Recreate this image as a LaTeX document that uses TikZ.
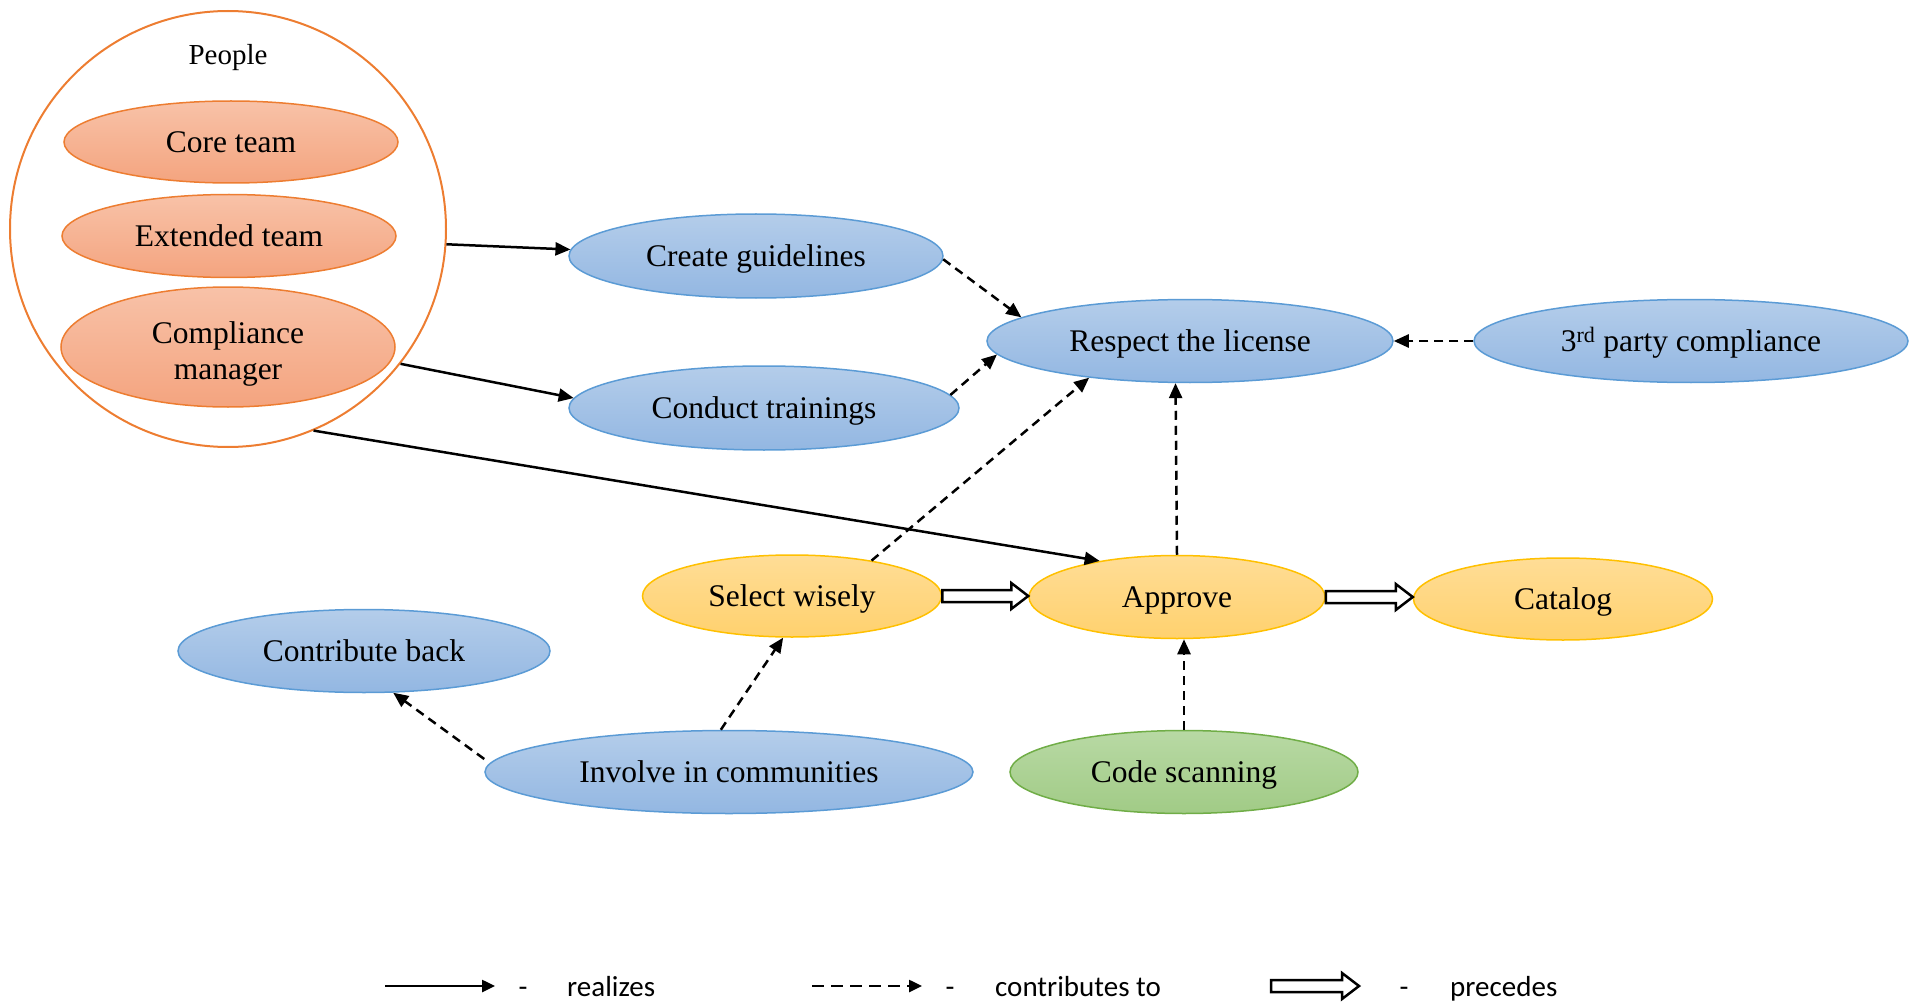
\documentclass[tikz,border=0pt]{standalone}
\usepackage{fontspec}
\setmainfont{Liberation Serif}
\newfontfamily\legendfont{Carlito}
\usetikzlibrary{shapes.geometric,arrows.meta,calc}
\definecolor{orngB}{HTML}{ED7D31}
\definecolor{orngT}{HTML}{F8C2A8}
\definecolor{orngL}{HTML}{F4A47F}
\definecolor{blueB}{HTML}{5B9BD5}
\definecolor{blueT}{HTML}{B4CDEA}
\definecolor{blueL}{HTML}{93B7E2}
\definecolor{yelB}{HTML}{FFC000}
\definecolor{yelT}{HTML}{FFDD96}
\definecolor{yelL}{HTML}{FFD16E}
\definecolor{grnB}{HTML}{70AD47}
\definecolor{grnT}{HTML}{B8D9A4}
\definecolor{grnL}{HTML}{A1CB86}
\begin{document}
\begin{tikzpicture}[x=1pt,y=-1pt,
  mainfont/.style={font=\fontsize{31.5}{36.6}\selectfont},
  base/.style={ellipse, inner sep=0pt, line width=1.5pt, align=center, mainfont},
  oneline/.style={text height=25pt, text depth=4pt},
  orangeE/.style={base, draw=orngB, top color=orngT, bottom color=orngL},
  blueE/.style={base, oneline, draw=blueB, top color=blueT, bottom color=blueL},
  yelE/.style={base, oneline, draw=yelB, top color=yelT, bottom color=yelL},
  grnE/.style={base, oneline, draw=grnB, top color=grnT, bottom color=grnL},
  realize/.style={line width=2.5pt, -{Triangle[length=15pt,width=13pt]}},
  contrib/.style={line width=2.5pt, dash pattern=on 9pt off 6pt, -{Triangle[length=15pt,width=13pt]}},
  hollow/.style={draw=black, line width=2.5pt, fill=white, line join=miter,
    to path={let \p1=(\tikztostart), \p2=(\tikztotarget) in
      (\x1,\y1-6pt) -- (\x2-17pt,\y1-6pt) -- (\x2-17pt,\y1-13pt) -- (\x2,\y1)
      -- (\x2-17pt,\y1+13pt) -- (\x2-17pt,\y1+6pt) -- (\x1,\y1+6pt) -- cycle}},
  legtext/.style={font=\legendfont\fontsize{29}{34}\selectfont, inner sep=0pt}
]
\useasboundingbox (0,0) rectangle (1915,1003);

% People group
\node[circle, draw=orngB, line width=2pt, minimum size=436pt, inner sep=0pt] (people) at (228,229) {};
\node[font=\fontsize{29}{34}\selectfont] (peoplelabel) at (228,58) {People};
\node[orangeE, oneline, minimum width=334pt, minimum height=82pt] (core) at (231,142) {Core team};
\node[orangeE, oneline, minimum width=334pt, minimum height=83pt] (ext) at (229,236) {Extended team};
\node[orangeE, minimum width=334pt, minimum height=120pt,
  label={[mainfont, align=center, yshift=-7pt]center:Compliance\\manager}] (cm) at (228,347) {};

% blue nodes
\node[blueE, minimum width=374pt, minimum height=84pt] (cg) at (756,256) {Create guidelines};
\node[blueE, minimum width=390pt, minimum height=84pt] (ct) at (764,408) {Conduct trainings};
\node[blueE, minimum width=406pt, minimum height=83pt] (rl) at (1190,341) {Respect the license};
\node[blueE, minimum width=434pt, minimum height=83pt] (tp) at (1691,341) {3\textsuperscript{rd} party compliance};
\node[blueE, minimum width=372pt, minimum height=83pt] (cb) at (364,651) {Contribute back};
\node[blueE, minimum width=488pt, minimum height=83pt] (ic) at (729,772) {Involve in communities};

% yellow nodes
\node[yelE, minimum width=299pt, minimum height=82pt] (sw) at (792,596) {Select wisely};
\node[yelE, minimum width=296pt, minimum height=83pt] (ap) at (1177,597) {Approve};
\node[yelE, minimum width=299pt, minimum height=82pt] (cat) at (1563,599) {Catalog};

% green node
\node[grnE, minimum width=348pt, minimum height=83pt] (cs) at (1184,772) {Code scanning};

% realizes
\draw[realize] (people.-4.7) -- (cg.178);
\draw[realize] (people.-38.1) -- (ct.177.1);
\draw[realize] (people.-67.4) -- (ap.155.2);

% contributes to
\draw[contrib] (cg.-1) -- (rl.172.9);
\draw[contrib] (ct.4.3) -- (rl.-176.3);
\draw[contrib] (sw.24.7) -- (rl.-160.3);
\draw[contrib] (ap.north) -- (rl.-109);
\draw[contrib] (tp.west) -- (rl.east);
\draw[contrib] (cs.north) -- (cs.north |- ap.south);
\draw[contrib] (ic.101.4) -- (sw.-102.7);
\draw[contrib] ([yshift=13pt]ic.west) -- (cb.-55.7);

% precedes
\draw[hollow] (sw.east) to (ap.west);
\draw[hollow] (ap.east) to (cat.west);

% legend
\coordinate (l1s) at (385,986);
\coordinate (l1e) at (495,986);
\coordinate (l2s) at (812,986);
\coordinate (l2e) at (922,986);
\coordinate (l3s) at (1271,986);
\coordinate (l3e) at (1359,986);
\draw[line width=2.5pt, -{Triangle[length=13pt,width=12pt]}] (l1s) -- (l1e);
\draw[line width=2.5pt, dash pattern=on 12pt off 7pt, -{Triangle[length=13pt,width=12pt]}] (l2s) -- (l2e);
\draw[hollow] (l3s) to (l3e);
\node[legtext, anchor=base] (d1) at (523,996.5) {-};
\node[legtext, anchor=base] (d2) at (950,996.5) {-};
\node[legtext, anchor=base] (d3) at (1404,996.5) {-};
\node[legtext, anchor=base west] (t1) at (567,996.5) {realizes};
\node[legtext, anchor=base west] (t2) at (995,996.5) {contributes to};
\node[legtext, anchor=base west] (t3) at (1450,996.5) {precedes};
\end{tikzpicture}
\end{document}
